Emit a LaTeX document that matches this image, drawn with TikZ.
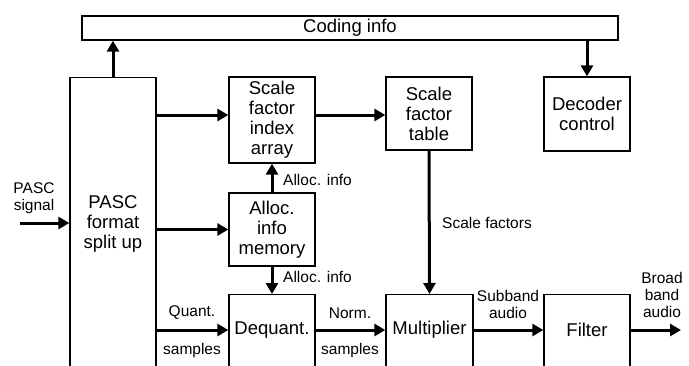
\documentclass[tikz,border=0pt]{standalone}
\usepackage{fontspec}
\setmainfont{Liberation Sans}
\usetikzlibrary{arrows.meta}
\begin{document}
\begin{tikzpicture}[x=1pt,y=-1pt,
  box/.style={draw, line width=1.3pt, inner sep=0pt, minimum width=86pt},
  big/.style={font=\fontsize{18.5}{20}\selectfont, align=center, inner sep=0pt},
  lbl/.style={font=\fontsize{15.5}{17}\selectfont, align=center, inner sep=0pt},
  arr/.style={line width=3pt, -{Triangle[length=11pt,width=12pt]}}]
\useasboundingbox (0,0) rectangle (689,365);
\fill[white] (0,0) rectangle (689,365);
\clip (0,0) rectangle (689,365);
% top bar
\node[box, big, minimum width=536pt, minimum height=24pt] (coding) at (350,28) {Coding info};
% PASC split box
\node[box, minimum height=303pt, anchor=north] (pascbox) at (113,77) {};
\node[big] (pasc) at (113,224) {PASC\\format\\split up};
% upper boxes
\node[box, big, minimum height=86pt] (sfi) at (272,120) {Scale\\factor\\index\\array};
\node[box, big, minimum height=73pt] (sft) at (429,113.5) {Scale\\factor\\table};
\node[box, big, minimum height=74pt] (dec) at (587,114) {Decoder\\control};
\node[box, big, minimum height=73pt] (alloc) at (272,229.5) {Alloc.\\info\\memory};
% bottom boxes (open at the bottom)
\node[box, minimum height=90pt, anchor=north] (deqbox) at (272,294) {};
\node[big] (deq) at (272,330) {Dequant.};
\node[box, minimum width=87pt, minimum height=90pt, anchor=north] (mulbox) at (429.5,294) {};
\node[big] (mul) at (429.5,330) {Multiplier};
\node[box, minimum height=90pt, anchor=north] (filbox) at (587,294) {};
\node[big] (fil) at (587,330) {Filter};
% free ends
\coordinate (in) at (20,223);
\coordinate (out) at (681,330);
% connectors
\draw[arr] (pascbox.north) -- (pascbox.north |- coding.south);
\draw[arr] (dec.north |- coding.south) -- (dec.north);
\draw[arr] (in) -- (in -| pascbox.west);
\draw[arr] ([yshift=5pt]sfi.west -| pascbox.east) -- ([yshift=5pt]sfi.west);
\draw[arr] ([yshift=5pt]sfi.east) -- ([yshift=5pt]sfi.east -| sft.west);
\draw[arr] (alloc.west -| pascbox.east) -- (alloc.west);
\draw[arr] (alloc.north) -- (sfi.south);
\draw[arr] (alloc.south) -- (deqbox.north);
\draw[arr] (deq -| pascbox.east) -- (deq -| deqbox.west);
\draw[arr] (deq -| deqbox.east) -- (mul -| mulbox.west);
\draw[arr] (sft.south) -- (mulbox.north);
\draw[arr] (mul -| mulbox.east) -- (fil -| filbox.west);
\draw[arr] (fil -| filbox.east) -- (out);
% labels
\node[lbl] (lsig) at (34,198) {PASC\\signal};
\node[lbl, anchor=west] (la1) at (283,180) {Alloc. info};
\node[lbl, anchor=west] (la2) at (283,277) {Alloc. info};
\node[lbl, anchor=west] (lsf) at (442,223) {Scale factors};
\node[lbl] (lq1) at (192,313) {Quant.};
\node[lbl] (lq2) at (192,350) {samples};
\node[lbl] (ln1) at (350,313) {Norm.};
\node[lbl] (ln2) at (350,350) {samples};
\node[lbl] (lsub) at (508,304) {Subband\\audio};
\node[lbl] (lbb) at (662,295) {Broad\\band\\audio};
\end{tikzpicture}
\end{document}
